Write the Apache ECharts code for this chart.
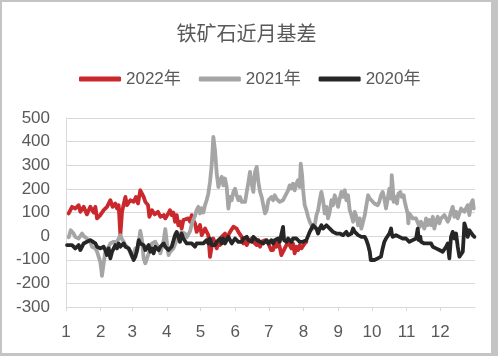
<!DOCTYPE html>
<html>
<head>
<meta charset="utf-8">
<script src="https://cdn.jsdelivr.net/npm/echarts@6/dist/echarts.min.js"></script>
<style>
html,body{margin:0;padding:0;width:498px;height:356px;background:#c4c4c4;overflow:hidden;}
#chart{position:absolute;left:2px;top:2px;width:489px;height:351px;background:#ffffff;}
</style>
</head>
<body>
<div id="chart"></div>
<script>
// Title / legend
var chartTitle = '铁矿石近月基差';
var seriesNames = ['2022年', '2021年', '2020年'];

// X axis: day of year, labelled by month at month start
var monthStarts = [0, 31, 59, 90, 120, 151, 181, 212, 243, 273, 304, 334];
var monthLabels = ['1', '2', '3', '4', '5', '6', '7', '8', '9', '10', '11', '12'];

// Y axis ticks
var yTicks = [-300, -200, -100, 0, 100, 200, 300, 400, 500];

// Series: [day of year, basis]
var basis2022 = [
[2.4,96],[5.4,124],[8.3,117],[11.3,131],[12.8,103],[15.8,124],[18.7,92],[21.7,124],[24.7,100],[26.2,124],[27.7,75],[30.6,89],[33.6,110],[36.6,124],[39.6,152],[41.6,124],[44,138],[45.5,117],[47,131],[48.5,4],[50,103],[53,166],[54.4,131],[57.4,152],[60.4,145],[62.5,166],[64.3,138],[66.3,194],[67.8,180],[69.3,166],[70.8,145],[73.2,131],[74.4,82],[76.8,110],[79.1,92],[82.1,103],[84.2,82],[87.2,89],[88.6,75],[91.3,96],[92.8,110],[94.3,89],[95.8,100],[97.3,61],[98.8,89],[100.2,46],[101.7,61],[103.2,32],[104.7,68],[106.2,61],[109.2,75],[110.7,61],[112.2,89],[113.6,68],[115.1,54],[116.6,18],[118.1,18],[119.6,47],[121.1,4],[122.6,18],[124.1,32],[125.5,40],[127,4],[128.5,-88],[130,-45],[131.5,-10],[133,-31],[134.5,-52],[136,-24],[137.4,-38],[138.9,-3],[140.4,-10],[141.9,11],[143.4,-10],[144.9,-3],[146.4,18],[147.9,25],[149.4,40],[150.9,47],[152.3,32],[153.8,18],[155.3,11],[156.8,-3],[158.3,-31],[159.8,-17],[161.3,-38],[162.8,-24],[164.2,-31],[165.7,-10],[167.2,-24],[168.7,-17],[170.2,-38],[171.7,-17],[173.2,-45],[174.6,-24],[177.6,-17],[180.6,-31],[183,-59],[184.8,-59],[186.3,-31],[187.7,-45],[189.2,-24],[190.7,-45],[192.2,-80],[193.7,-87],[195.2,-52],[196.7,-38],[198.2,-17],[199.6,-38],[201.1,-52],[202.6,-31],[204.1,-73],[205.6,-45],[207.1,-59],[208.6,-38],[210.1,-52],[211.5,-45],[213,-31],[214.5,-24]
];
var basis2021 = [
[2.4,-5],[4.2,25],[4.8,32],[6.8,11],[8.3,-3],[9.8,4],[11.3,-10],[12.8,-3],[14.3,11],[15.8,0],[17.3,7],[18.7,-10],[20.2,-17],[21.7,-24],[23.2,-45],[24.7,-50],[26.2,-52],[27.7,-66],[29.2,-88],[30.6,-109],[31.5,-140],[32.1,-168],[33.6,-116],[35.1,-66],[36.6,-59],[38.1,-45],[39.6,-31],[41.1,-31],[42.5,-24],[44,-17],[45.5,-24],[47,-10],[48.5,4],[50,-13],[51.5,-24],[53,-38],[54.4,-31],[55.9,-52],[57.4,-59],[58.9,-87],[60.4,-73],[61.9,-52],[63.4,-66],[64.9,-24],[66.3,22],[67.8,-17],[69.3,-94],[70.8,-115],[72.3,-94],[73.8,-73],[75.3,-45],[76.8,-31],[78.2,-38],[79.7,-24],[81.2,-38],[82.7,-52],[84.2,-73],[85.7,-66],[87.2,-17],[88.6,30],[90.1,-30],[91.5,-80],[93,-66],[94.3,-60],[95.8,-52],[97.3,-45],[98.8,-17],[100.2,-10],[101.7,4],[103.2,18],[104.7,25],[106.2,10],[107.7,-5],[109.2,-3],[110.7,20],[112.2,50],[113.6,70],[115.1,85],[116.6,110],[118.1,124],[119.6,96],[121.1,118],[122.6,100],[124.1,131],[125.5,152],[127,180],[128.5,229],[130,300],[131.5,420],[133,363],[134.5,265],[136,208],[137.5,237],[139,251],[140.4,215],[141.9,244],[143.4,208],[144.9,117],[146.4,166],[147.9,152],[149.4,187],[150.9,201],[152.3,173],[153.8,152],[155.3,166],[156.8,145],[158.3,152],[159.8,145],[161.3,187],[162.8,229],[164.2,272],[165.7,222],[167.2,187],[168.7,272],[170.2,293],[171.7,229],[173.2,187],[174.6,166],[176.1,131],[177.6,96],[179.1,110],[180.6,152],[181.8,145],[183.3,166],[184.8,152],[186.3,173],[187.7,159],[189.2,166],[190.7,145],[192.2,138],[193.7,152],[195.2,166],[196.7,180],[198.2,194],[199.6,215],[201.1,201],[202.6,222],[204.1,194],[205.6,222],[207.1,237],[208.6,208],[209.5,307],[210.7,258],[211.5,201],[213,131],[214.5,110],[216,82],[217.5,61],[219,46],[220.5,32],[222,46],[223.5,89],[225,110],[226.4,152],[227.9,187],[229.4,152],[230.9,96],[232.4,124],[233.9,75],[235.4,103],[236.9,152],[238.3,131],[239.8,173],[241.3,152],[242.8,124],[244.3,159],[245.8,187],[247.3,166],[248.8,194],[250.2,152],[251.7,173],[253.2,110],[254.7,89],[256.2,61],[257.7,103],[259.2,82],[260.7,46],[262.1,75],[263.6,32],[265.1,61],[266.6,89],[268.1,131],[269.6,173],[271.1,159],[272.6,152],[275.2,138],[278.2,131],[279.6,145],[281.1,173],[282.6,187],[284.1,159],[285.6,117],[287.1,159],[288.6,201],[290.1,159],[290.7,258],[291.5,215],[292.4,145],[293.6,166],[295.4,138],[296.6,180],[298.4,187],[299.6,166],[301.4,173],[302,152],[303.4,124],[304.9,96],[305.5,54],[306.4,96],[307.9,103],[309.4,75],[310.9,82],[312.4,75],[313.9,68],[315.4,39],[316.8,61],[318.3,46],[319.8,32],[321.3,75],[322.8,46],[324.3,68],[325.8,46],[327.3,82],[328.7,32],[330.2,61],[331.7,82],[333.2,54],[334.7,75],[336.2,68],[337.7,89],[339.2,82],[340.7,61],[342.1,75],[343.6,103],[345.1,124],[346.6,82],[348.1,103],[349.6,75],[351.1,82],[352.6,117],[354.1,124],[355.5,103],[357,117],[358.5,131],[360,89],[361.5,138],[363,152],[363.9,117]
];
var basis2020 = [
[0.9,-38],[2.4,-31],[5.4,-38],[8.3,-52],[9.8,-45],[11.3,-38],[12.8,-59],[14.3,-52],[15.8,-31],[18.7,-24],[21.7,-17],[23.2,-24],[26.2,-31],[27.7,-45],[29.2,-38],[30.6,-52],[32.1,-59],[33.6,-45],[35.1,-59],[36.6,-80],[38.1,-52],[39.6,-94],[41.1,-66],[42.5,-59],[44,-38],[45.5,-52],[47,-31],[48.5,-45],[50,-38],[51.5,-31],[53,-45],[54.4,-38],[55.9,-52],[57.4,-66],[58.9,-59],[60.4,-101],[61.9,-87],[63.4,-59],[64.9,-17],[66.3,-31],[67.8,-24],[69.3,-38],[70.8,-59],[72.3,-52],[73.8,-38],[75.3,-66],[76.8,-52],[78.2,-73],[79.7,-45],[81.2,-38],[82.7,-59],[84.2,-45],[85.7,-38],[87.2,-31],[88.6,-45],[89.8,-52],[91.3,-59],[92.8,-52],[94.3,-45],[95.8,-52],[97.3,4],[98.8,18],[100.2,11],[101.7,-24],[103.2,11],[104.7,-10],[106.2,-17],[107.7,-31],[109.2,-24],[112.2,-31],[113.6,-38],[115.1,-45],[116.6,-31],[118.1,-24],[119.6,-31],[121.1,-24],[122.6,-31],[124.1,-24],[125.5,-17],[127,-31],[128.5,-10],[130,-38],[131.5,-45],[133,-38],[134.5,-24],[136,-17],[137.5,-10],[139,-31],[140.4,-10],[141.9,-31],[143.4,-17],[144.9,-3],[146.4,-17],[147.9,-31],[149.4,-38],[150.9,-10],[152.3,-17],[153.8,-24],[155.3,-17],[156.8,-24],[158.3,-10],[159.8,-17],[161.3,-3],[162.8,-17],[164.2,-10],[165.7,-24],[167.2,-3],[168.7,-10],[170.2,-17],[171.7,-10],[173.2,-24],[174.6,-17],[176.1,-31],[177.6,-24],[179.1,-17],[180.6,-31],[183.3,-17],[184.8,-31],[186.3,-17],[187.7,-24],[189.2,-10],[190.7,-24],[192.2,-17],[193.7,39],[194.6,-17],[196.7,-24],[198.2,-10],[199.6,-17],[201.1,-24],[202.6,-10],[204.1,-17],[205.6,-10],[207.1,-17],[208.6,-24],[210.1,-17],[211.5,-24],[213,-31],[214.5,-17],[216,-10],[217.5,18],[219,32],[220.5,46],[222,54],[223.5,32],[225,11],[226.4,32],[227.9,46],[229.4,32],[230.9,39],[232.4,46],[233.9,39],[235.4,32],[236.9,25],[238.3,18],[239.8,25],[241.3,11],[242.8,18],[244.3,11],[245.8,18],[247.3,4],[248.8,11],[250.2,18],[251.7,4],[253.2,-3],[254.7,11],[256.2,32],[257.7,18],[259.2,11],[260.7,4],[262.1,11],[263.6,-3],[265.1,4],[266.6,-3],[268.1,-17],[269.6,-38],[271.1,-66],[272,-101],[272.6,-108],[275.2,-101],[278.2,-94],[281.1,-87],[282.6,-52],[284.1,-24],[285.6,-10],[287.1,-3],[288.6,11],[290.1,32],[290.7,11],[291.5,-3],[293,4],[294.5,4],[296,-3],[297.5,-3],[299,-10],[300.5,-10],[302,-17],[303.4,-10],[304.9,-17],[306.4,-24],[307.9,-24],[309.4,-17],[310.9,-17],[312.4,-10],[313.9,32],[314.8,-17],[316.2,-3],[316.8,-24],[318.3,-17],[319.8,-31],[321.3,-24],[322.8,-31],[324.3,-38],[325.8,-31],[327.3,-45],[328.7,-45],[330.2,-52],[331.7,-45],[333.2,-59],[334.7,-52],[336.2,-66],[337.7,-59],[339.2,-45],[340.7,-31],[342.1,-94],[343,-87],[343.6,-3],[345.1,18],[346.6,-10],[348.1,11],[349.6,-45],[351.1,-87],[352.6,-80],[354.1,-66],[355,4],[355.5,54],[357,32],[358.5,-3],[360,25],[361.5,18],[363,4],[364.5,-3]
];

var seriesData = [basis2022, basis2021, basis2020];
var seriesColors = ['#c9282d', '#a5a5a5', '#262626'];

var FONT = '"Liberation Sans", "Noto Sans CJK SC", sans-serif';
var chart = echarts.init(document.getElementById('chart'), null, {renderer: 'canvas'});

var option = {
  animation: false,
  backgroundColor: '#ffffff',
  textStyle: {fontFamily: FONT},
  title: {
    text: chartTitle,
    left: 'center',
    top: 14,
    textStyle: {fontFamily: '"Noto Sans CJK SC", sans-serif', fontSize: 20, fontWeight: 'normal', color: '#595959', lineHeight: 24}
  },
  legend: {
    data: seriesNames,
    left: 72,
    top: 62,
    icon: 'roundRect',
    itemWidth: 42,
    itemHeight: 5,
    itemGap: 18,
    textStyle: {fontFamily: FONT, fontSize: 17, color: '#595959', lineHeight: 20}
  },
  grid: {left: 64, right: 16, top: 116, bottom: 46, containLabel: false},
  xAxis: [{
    type: 'value',
    min: 0,
    max: 365,
    axisLine: {show: false},
    axisTick: {show: false},
    splitLine: {show: false},
    axisLabel: {
      customValues: monthStarts,
      margin: 17,
      fontSize: 17,
      color: '#595959',
      fontFamily: FONT,
      formatter: function (v) {
        var i = monthStarts.indexOf(v);
        return i >= 0 ? monthLabels[i] : '';
      }
    }
  }, {
    type: 'value',
    min: 0,
    max: 365,
    position: 'bottom',
    axisLine: {show: true, onZero: true, lineStyle: {color: '#d9d9d9', width: 1}},
    axisTick: {show: true, customValues: monthStarts, length: 4, lineStyle: {color: '#d9d9d9'}},
    axisLabel: {show: false},
    splitLine: {show: false}
  }],
  yAxis: {
    type: 'value',
    min: yTicks[0],
    max: yTicks[yTicks.length - 1],
    interval: 100,
    axisLine: {show: true, lineStyle: {color: '#d9d9d9', width: 1}},
    axisTick: {show: false},
    splitLine: {show: true, lineStyle: {color: '#d9d9d9', width: 1}},
    axisLabel: {fontSize: 17, color: '#595959', margin: 16, fontFamily: FONT}
  },
  series: seriesNames.map(function (name, i) {
    return {
      name: name,
      type: 'line',
      xAxisIndex: 0,
      data: seriesData[i],
      symbol: 'none',
      showSymbol: false,
      smooth: false,
      sampling: null,
      color: seriesColors[i],
      lineStyle: {color: seriesColors[i], width: 3.8, join: 'round', cap: 'round'},
      z: 2 + i
    };
  })
};
chart.setOption(option);
</script>
</body>
</html>
